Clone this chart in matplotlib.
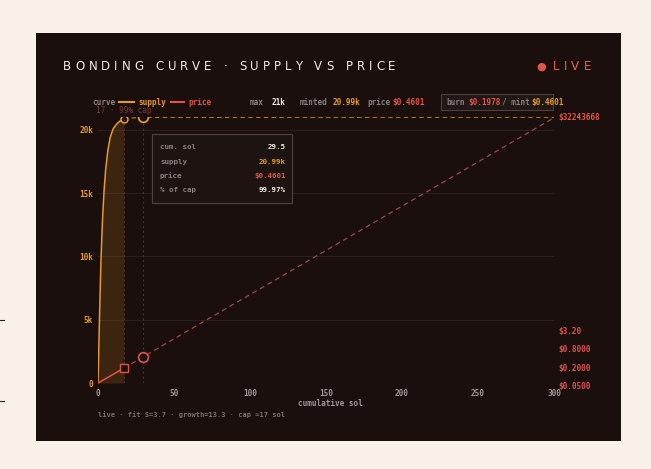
import numpy as np
import matplotlib
matplotlib.use("Agg")
import matplotlib.pyplot as plt
from matplotlib.patches import Rectangle
from matplotlib.lines import Line2D

# datos
sol_curva = [0, 0.5, 1.0, 1.5, 2.0, 3.0, 4.0, 5.0, 6.5, 8.0, 10.0, 12.5, 15.0, 17.0]
supply_curva = [0, 2600, 5200, 7600, 9800, 13000, 15200, 16800, 18400, 19400,
                20100, 20500, 20750, 20900]
sol_tope = [17.0, 29.5, 300]
supply_tope = [20900, 20990, 21000]
sol_precio = [0, 17.0]
precio = [0.0645, 0.1978]
sol_precio_ext = [17.0, 29.5, 300]
precio_ext = [0.1978, 0.4601, 32243668]
cap_sol = 17.0
cum_sol = 29.5
x_ticks = [0, 50, 100, 150, 200, 250, 300]
y_ticks = [0, 5000, 10000, 15000, 20000]
y_labels = ['0', '5k', '10k', '15k', '20k']
p_ticks = [0.05, 0.2, 0.8, 3.2, 32243668]
p_labels = ['$0.0500', '$0.2000', '$0.8000', '$3.20', '$32243668']
tooltip = [('cum. sol', '29.5', 'w'), ('supply', '20.99k', 'o'),
           ('price', '$0.4601', 'r'), ('% of cap', '99.97%', 'w')]

W, H = 651, 469
CREMA = '#f8f1e7'
FONDO = '#1a0f0d'
NARANJA = '#e89a2c'
ROJO = '#e2544a'
ROJO_OSC = '#9a4a44'
GRIS = '#8a8080'
BLANCO = '#f2ece6'
MONO = 'DejaVu Sans Mono'
FS = 5.6


def fx(px):
    return px / W


def fy(py):
    return 1 - py / H


fig = plt.figure(figsize=(W / 100, H / 100), dpi=100)
fig.patch.set_facecolor(CREMA)
fig.add_artist(Rectangle((fx(36), fy(441)), fx(621) - fx(36), fy(33) - fy(441),
                         transform=fig.transFigure, facecolor=FONDO, edgecolor='none', zorder=0))
# marquitas sueltas en el borde izquierdo
for py in [320, 401]:
    fig.add_artist(Line2D([0, fx(4)], [fy(py), fy(py)], color='#222', lw=0.8))

ax = fig.add_axes([fx(98), fy(383), fx(554) - fx(98), fy(117.3) - fy(383)])
ax.set_facecolor('none')
ax.set_xlim(0, 300)
ax.set_ylim(0, 21000)
for s in ax.spines.values():
    s.set_visible(False)
ax.tick_params(length=0)
ax.set_xticks(x_ticks)
ax.set_xticklabels([str(t) for t in x_ticks], color='#a09898', fontsize=FS,
                   fontfamily=MONO, fontweight='bold')
ax.tick_params(axis='x', pad=4)
ax.set_yticks(y_ticks)
ax.set_yticklabels(y_labels, color=NARANJA, fontsize=FS, fontfamily=MONO, fontweight='bold')
ax.tick_params(axis='y', pad=3.5)
for t in y_ticks[1:]:
    ax.axhline(t, color='#2a1f1c', lw=0.8, zorder=0)

# curva de supply
ax.fill_between(sol_curva, 0, supply_curva, color=NARANJA, alpha=0.16, lw=0)
ax.plot(sol_curva, supply_curva, color=NARANJA, lw=1.1)
ax.plot(sol_tope, supply_tope, color=NARANJA, lw=0.8, ls=(0, (4, 3)), alpha=0.8)
ax.plot(sol_curva[-1], supply_curva[-1], 'o', ms=5, mfc=FONDO, mec=NARANJA, mew=1.1)
ax.plot(sol_tope[1], supply_tope[1], 'o', ms=7, mfc=FONDO, mec=NARANJA, mew=1.3, zorder=5)
ax.axvline(cap_sol, ymax=0.995, color='#5a3030', lw=0.7, ls=(0, (2, 3)))
ax.axvline(cum_sol, color='#5a3030', lw=0.7, ls=(0, (2, 3)))
ax.text(cap_sol, 21550, '17 · 99% cap', color='#7a3a3a', fontsize=FS,
        fontfamily=MONO, ha='center', va='center', clip_on=False)
ax.text(0.51, -0.078, 'cumulative sol', transform=ax.transAxes, color='#a09898',
        fontsize=FS, fontfamily=MONO, fontweight='bold', ha='center', va='center')

# precio en escala log
ax2 = fig.add_axes([fx(98), fy(390), fx(554) - fx(98), fy(117.3) - fy(390)])
ax2.set_facecolor('none')
ax2.set_xlim(0, 300)
ax2.set_yscale('log')
ax2.set_ylim(0.0381, 3.33e7)
ax2.axis('off')
ax2.plot(sol_precio, precio, color=ROJO, lw=1.1)
ax2.plot(sol_precio_ext, precio_ext, color=ROJO_OSC, lw=0.9, ls=(0, (4, 3)))
ax2.plot(sol_precio[-1], precio[-1], 's', ms=6, mfc=FONDO, mec=ROJO, mew=1.0)
ax2.plot(sol_precio_ext[1], precio_ext[1], 'o', ms=7, mfc=FONDO, mec=ROJO, mew=1.2, zorder=5)
for v, lab in zip(p_ticks, p_labels):
    ax2.text(303, v, lab, color=ROJO, fontsize=FS, fontfamily=MONO, fontweight='bold',
             ha='left', va='center', clip_on=False)

renderer = fig.canvas.get_renderer()


def texto_espaciado(x, y, s, color, size, extra):
    # pone letra por letra para simular letter-spacing
    cx = x
    for ch in s:
        t = fig.text(fx(cx), fy(y), ch, color=color, fontsize=size, va='center', ha='left',
                     fontfamily='DejaVu Sans')
        w = t.get_window_extent(renderer).width
        if ch == ' ':
            w = size * 0.45
        cx += w + extra
    return cx


texto_espaciado(63, 66.5, 'BONDING CURVE · SUPPLY VS PRICE', BLANCO, 8.5, 4.0)
fig.text(fx(536), fy(66.5), '●', color=ROJO, fontsize=8, va='center', ha='left')
texto_espaciado(553, 66.5, 'LIVE', '#f0604e', 8.5, 4.2)


def t(x, y, s, color, ha='left', size=FS):
    fig.text(fx(x), fy(y), s, color=color, fontsize=size, fontfamily=MONO,
             fontweight='bold', ha=ha, va='center')


# fila de leyenda
t(92, 102, 'curve', GRIS)
fig.add_artist(Line2D([fx(119), fx(134)], [fy(102), fy(102)], color=NARANJA, lw=1.5))
t(138, 102, 'supply', NARANJA)
fig.add_artist(Line2D([fx(171), fx(184)], [fy(102), fy(102)], color=ROJO, lw=1.5))
t(188, 102, 'price', ROJO)
t(250, 102, 'max', GRIS)
t(272, 102, '21k', BLANCO)
t(300, 102, 'minted', GRIS)
t(333, 102, '20.99k', NARANJA)
t(367, 102, 'price', GRIS)
t(392, 102, '$0.4601', ROJO)
fig.add_artist(Rectangle((fx(441), fy(110)), fx(553) - fx(441), fy(94) - fy(110),
                         transform=fig.transFigure, facecolor='#211714', edgecolor='#4a403c', lw=0.8))
t(446, 102, 'burn', GRIS)
t(468, 102, '$0.1978', ROJO)
t(502, 102, '/ mint', GRIS)
t(531, 102, '$0.4601', NARANJA)

# tooltip
fig.add_artist(Rectangle((fx(152.3), fy(203.3)), fx(292.3) - fx(152.3), fy(134) - fy(203.3),
                         transform=fig.transFigure, facecolor='#1d1412', edgecolor='#4a403c', lw=0.9))
colores = {'w': BLANCO, 'o': NARANJA, 'r': ROJO}
for i, (lab, val, c) in enumerate(tooltip):
    yy = 147.3 + i * 14.3
    t(160, yy, lab, GRIS, size=5.4)
    t(285.5, yy, val, colores[c], ha='right', size=5.4)

fig.text(fx(98), fy(414.5), 'live · fit S=3.7 · growth=13.3 · cap ≈17 sol', color='#7a7070',
         fontsize=5.0, fontfamily=MONO, fontweight='bold', ha='left', va='center')

fig.savefig('out.png', dpi=100, facecolor=CREMA)
